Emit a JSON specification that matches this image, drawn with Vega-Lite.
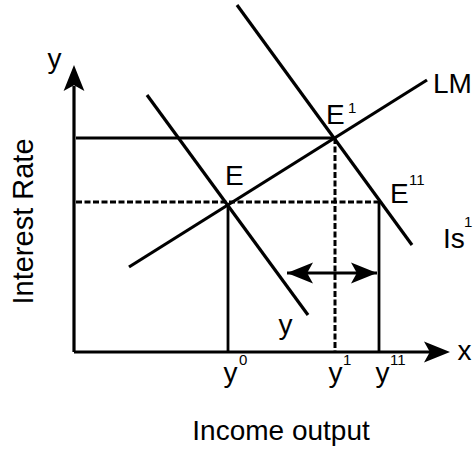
{
  "$schema": "https://vega.github.io/schema/vega-lite/v6.json",
  "width": 475,
  "height": 453,
  "padding": 0,
  "autosize": {"type": "fit", "contains": "padding"},
  "background": "white",
  "config": {"view": {"stroke": null}, "text": {"font": "Liberation Sans", "color": "#000"}},
  "layer": [
    {
      "data": {"values": [
        {"name": "y-axis", "x": 0, "y": 0, "x2": 0, "y2": 266},
        {"name": "x-axis", "x": 0, "y": 0, "x2": 356, "y2": 0},
        {"name": "LM", "x": 55, "y": 85, "x2": 353, "y2": 272},
        {"name": "IS", "x": 73, "y": 257, "x2": 234, "y2": 37},
        {"name": "IS1", "x": 163, "y": 347, "x2": 338, "y2": 107}
      ]},
      "mark": {"type": "rule", "strokeWidth": 3.2, "color": "#000"},
      "encoding": {
        "x": {"field": "x", "type": "quantitative", "scale": {"domain": [-74, 401], "nice": false, "zero": false}, "axis": null},
        "y": {"field": "y", "type": "quantitative", "scale": {"domain": [-101, 352], "nice": false, "zero": false}, "axis": null},
        "x2": {"field": "x2"},
        "y2": {"field": "y2"}
      }
    },
    {
      "data": {"values": [
        {"name": "r at E1", "x": 2, "y": 214, "x2": 259, "y2": 214},
        {"name": "Y0", "x": 154, "y": 149, "x2": 154, "y2": 0},
        {"name": "Y11", "x": 305, "y": 150, "x2": 305, "y2": 0},
        {"name": "shift", "x": 213, "y": 79, "x2": 303, "y2": 79}
      ]},
      "mark": {"type": "rule", "strokeWidth": 2.8, "color": "#000"},
      "encoding": {
        "x": {"field": "x", "type": "quantitative", "scale": {"domain": [-74, 401], "nice": false, "zero": false}, "axis": null},
        "y": {"field": "y", "type": "quantitative", "scale": {"domain": [-101, 352], "nice": false, "zero": false}, "axis": null},
        "x2": {"field": "x2"},
        "y2": {"field": "y2"}
      }
    },
    {
      "data": {"values": [
        {"name": "r at E", "x": 2, "y": 150, "x2": 306, "y2": 150},
        {"name": "Y1", "x": 261, "y": 214, "x2": 261, "y2": 1}
      ]},
      "mark": {"type": "rule", "strokeWidth": 3, "color": "#000", "strokeDash": [6, 2.5]},
      "encoding": {
        "x": {"field": "x", "type": "quantitative", "scale": {"domain": [-74, 401], "nice": false, "zero": false}, "axis": null},
        "y": {"field": "y", "type": "quantitative", "scale": {"domain": [-101, 352], "nice": false, "zero": false}, "axis": null},
        "x2": {"field": "x2"},
        "y2": {"field": "y2"}
      }
    },
    {
      "data": {"values": [
        {"dir": "up", "x": 0, "y": 274},
        {"dir": "right", "x": 363, "y": 0},
        {"dir": "left", "x": 226, "y": 79},
        {"dir": "right", "x": 290, "y": 79}
      ]},
      "mark": {"type": "point", "filled": true, "opacity": 1, "color": "#000", "size": 676},
      "encoding": {
        "x": {"field": "x", "type": "quantitative", "scale": {"domain": [-74, 401], "nice": false, "zero": false}, "axis": null},
        "y": {"field": "y", "type": "quantitative", "scale": {"domain": [-101, 352], "nice": false, "zero": false}, "axis": null},
        "shape": {"field": "dir", "type": "nominal", "legend": null, "scale": {"domain": ["up", "right", "left"], "range": ["M0,-1L0.8,1L0,0.55L-0.8,1Z", "M1,0L-1,-0.8L-0.55,0L-1,0.8Z", "M-1,0L1,-0.8L0.55,0L1,0.8Z"]}}
      }
    },
    {
      "data": {"values": [
        {"label": "y", "x": -19.5, "y": 284.5},
        {"label": "y", "x": 211.5, "y": 18},
        {"label": "y", "x": 156.5, "y": -30},
        {"label": "y", "x": 261.5, "y": -30},
        {"label": "y", "x": 308.5, "y": -30},
        {"label": "x", "x": 390.5, "y": -8},
        {"label": "Income output", "x": 207, "y": -88}
      ]},
      "mark": {"type": "text", "fontSize": 28, "align": "center", "baseline": "alphabetic"},
      "encoding": {
        "x": {"field": "x", "type": "quantitative", "scale": {"domain": [-74, 401], "nice": false, "zero": false}, "axis": null},
        "y": {"field": "y", "type": "quantitative", "scale": {"domain": [-101, 352], "nice": false, "zero": false}, "axis": null},
        "text": {"field": "label"}
      }
    },
    {
      "data": {"values": [
        {"label": "E", "x": 151, "y": 167},
        {"label": "E", "x": 252, "y": 228},
        {"label": "E", "x": 316, "y": 149},
        {"label": "LM", "x": 359, "y": 259},
        {"label": "Is", "x": 369, "y": 104}
      ]},
      "mark": {"type": "text", "fontSize": 28, "align": "left", "baseline": "alphabetic"},
      "encoding": {
        "x": {"field": "x", "type": "quantitative", "scale": {"domain": [-74, 401], "nice": false, "zero": false}, "axis": null},
        "y": {"field": "y", "type": "quantitative", "scale": {"domain": [-101, 352], "nice": false, "zero": false}, "axis": null},
        "text": {"field": "label"}
      }
    },
    {
      "data": {"values": [
        {"label": "1", "x": 274, "y": 239},
        {"label": "11", "x": 335, "y": 167},
        {"label": "1", "x": 390, "y": 125},
        {"label": "0", "x": 165, "y": -13},
        {"label": "1", "x": 269, "y": -13},
        {"label": "11", "x": 316, "y": -13}
      ]},
      "mark": {"type": "text", "fontSize": 15, "align": "left", "baseline": "alphabetic"},
      "encoding": {
        "x": {"field": "x", "type": "quantitative", "scale": {"domain": [-74, 401], "nice": false, "zero": false}, "axis": null},
        "y": {"field": "y", "type": "quantitative", "scale": {"domain": [-101, 352], "nice": false, "zero": false}, "axis": null},
        "text": {"field": "label"}
      }
    },
    {
      "data": {"values": [
        {"label": "Interest Rate", "x": -41, "y": 130.5}
      ]},
      "mark": {"type": "text", "fontSize": 29, "align": "center", "baseline": "alphabetic", "angle": 270},
      "encoding": {
        "x": {"field": "x", "type": "quantitative", "scale": {"domain": [-74, 401], "nice": false, "zero": false}, "axis": null},
        "y": {"field": "y", "type": "quantitative", "scale": {"domain": [-101, 352], "nice": false, "zero": false}, "axis": null},
        "text": {"field": "label"}
      }
    }
  ]
}
